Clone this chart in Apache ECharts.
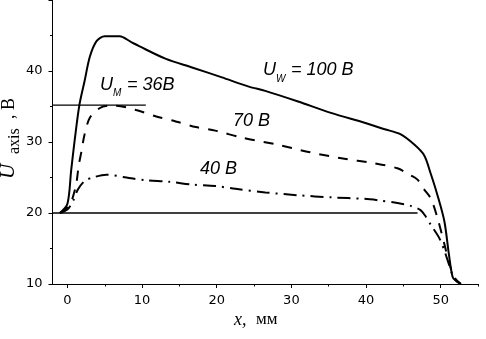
<!DOCTYPE html>
<html>
<head>
<meta charset="utf-8">
<script src="https://cdn.jsdelivr.net/npm/echarts@6/dist/echarts.min.js"></script>
<style>
  html, body { margin: 0; padding: 0; background: #fff; }
  #chart { width: 486px; height: 339px; }
</style>
</head>
<body>
<div id="chart"></div>
<script>
// x, mm
const u100X = [-1, 0, 0.5, 1.0, 1.6, 2.3, 3.0, 3.9, 5.0, 7.0, 8.5, 9.6, 13.2, 16.7, 20.7, 24.3, 26.5, 30.9, 35.3, 39.8, 42.5, 44.6, 46.5, 47.8, 48.65, 49.6, 50.5, 51.1, 51.6, 52.1, 52.7];
const u100Y = [20, 21.3, 26, 30.5, 35.2, 38.6, 42.0, 44.2, 44.9, 44.9, 44.1, 43.5, 41.7, 40.5, 39.1, 37.8, 37.2, 35.7, 34.1, 32.7, 31.8, 31.1, 29.6, 28.1, 25.6, 22.4, 18.8, 14.2, 11.0, 10.4, 10];

const u70X = [-1, 0, 0.5, 0.8, 1.2, 1.5, 1.9, 2.3, 3.0, 4.3, 5.5, 6.5, 9.2, 11.9, 14.5, 17.2, 19.8, 23.4, 27.8, 32.3, 36.7, 41.1, 44.2, 46.0, 46.9, 47.8, 48.7, 49.6, 50.5, 51.1, 51.8, 52.7];
const u70Y = [20, 20.8, 21.6, 22.5, 24.2, 26.6, 28.8, 31.1, 33.4, 34.75, 35.1, 35.1, 34.5, 33.6, 32.9, 32.1, 31.6, 30.6, 29.7, 28.6, 27.7, 27.0, 26.3, 25.3, 24.7, 23.3, 22.0, 19.2, 15.6, 13.1, 11.0, 10];

const u40X = [-1, 0, 0.5, 0.8, 1.4, 2.3, 3.4, 5.2, 7.9, 10.5, 13.6, 16.7, 19.8, 22.5, 26.5, 30.9, 35.4, 39.8, 41.6, 44.2, 46.0, 47.3, 48.0, 48.7, 49.8, 50.5, 51.1, 51.8, 52.7];
const u40Y = [20, 20.5, 21.2, 21.8, 23.3, 24.5, 25.0, 25.4, 25.0, 24.6, 24.4, 24.0, 23.8, 23.4, 22.9, 22.5, 22.2, 22.0, 21.8, 21.4, 21.0, 20.4, 19.5, 18.3, 16.5, 14.7, 12.8, 10.8, 10];

// horizontal reference lines: level and right end
const refLevels = [35.2, 20];
const refEnds = [10.5, 46.9];

const xLabels = [0, 10, 20, 30, 40, 50];
const xMinorTicks = [5, 15, 25, 35, 45, 55];
const yLabels = [10, 20, 30, 40];

const pairs = (xs, ys) => xs.map((x, i) => [x, ys[i]]);

const chart = echarts.init(document.getElementById('chart'), null, { renderer: 'canvas' });

const tickFont = {
  color: '#000',
  fontFamily: 'DejaVu Sans',
  fontSize: 13
};
const noteFont = 'italic 18px "Liberation Sans", Arial';
const subFont = 'italic 10px "Liberation Sans", Arial';

const options = {
  animation: false,
  grid: {
    left: 52.5,
    right: 8,
    top: -8,
    bottom: 55
  },
  xAxis: [
    {
      type: 'value',
      min: -2,
      max: 55,
      position: 'bottom',
      splitLine: { show: false },
      axisLine: { onZero: false, lineStyle: { color: '#000', width: 1 } },
      axisTick: { customValues: xLabels, length: 4, lineStyle: { color: '#000' } },
      axisLabel: Object.assign({ customValues: xLabels, margin: 10 }, tickFont)
    },
    {
      // minor ticks only
      type: 'value',
      min: -2,
      max: 55,
      position: 'bottom',
      splitLine: { show: false },
      axisLine: { show: false, onZero: false },
      axisTick: { customValues: xMinorTicks, length: 2.5, lineStyle: { color: '#000' } },
      axisLabel: { show: false }
    }
  ],
  yAxis: {
    type: 'value',
    min: 10,
    max: 50,
    interval: 10,
    splitLine: { show: false },
    axisLine: { show: true, onZero: false, lineStyle: { color: '#000', width: 1 } },
    axisTick: { show: true, length: 4, lineStyle: { color: '#000' } },
    minorTick: { show: true, splitNumber: 2, length: 2.5, lineStyle: { color: '#000' } },
    axisLabel: Object.assign({ customValues: yLabels, margin: 10 }, tickFont)
  },
  series: [
    {
      name: '100 B',
      type: 'line',
      data: pairs(u100X, u100Y),
      showSymbol: false,
      smooth: 0.3,
      lineStyle: { color: '#000', width: 2 }
    },
    {
      name: '70 B',
      type: 'line',
      data: pairs(u70X, u70Y),
      showSymbol: false,
      smooth: 0.3,
      lineStyle: { color: '#000', width: 2, type: [10, 9] }
    },
    {
      name: '40 B',
      type: 'line',
      data: pairs(u40X, u40Y),
      showSymbol: false,
      smooth: 0.3,
      lineStyle: { color: '#000', width: 2, type: [13, 6, 2, 6] }
    }
  ].concat(refLevels.map((lvl, i) => ({
    name: 'ref' + i,
    type: 'line',
    data: [[-2, lvl], [refEnds[i], lvl]],
    showSymbol: false,
    lineStyle: { color: '#000', width: 1.3 }
  }))),
  graphic: [
    // annotations
    { type: 'text', left: 263, top: 61, style: { text: 'U', font: noteFont, fill: '#000' } },
    { type: 'text', left: 276, top: 74, style: { text: 'W', font: subFont, fill: '#000' } },
    { type: 'text', left: 291, top: 61, style: { text: '= 100 B', font: noteFont, fill: '#000' } },
    { type: 'text', left: 100, top: 76, style: { text: 'U', font: noteFont, fill: '#000' } },
    { type: 'text', left: 113, top: 88, style: { text: 'M', font: subFont, fill: '#000' } },
    { type: 'text', left: 127, top: 76, style: { text: '= 36B', font: noteFont, fill: '#000' } },
    { type: 'text', left: 233, top: 112, style: { text: '70 B', font: noteFont, fill: '#000' } },
    { type: 'text', left: 200, top: 160, style: { text: '40 B', font: noteFont, fill: '#000' } },
    // y axis title, reading bottom to top
    { type: 'text', x: 8.5, y: 179, rotation: Math.PI / 2,
      style: { text: 'U', font: 'italic 21px "Liberation Serif", serif', fill: '#000', align: 'left', verticalAlign: 'middle' } },
    { type: 'text', x: 15, y: 154, rotation: Math.PI / 2,
      style: { text: 'axis', font: '16px "Liberation Serif", serif', fill: '#000', align: 'left', verticalAlign: 'middle' } },
    { type: 'text', x: 9, y: 119, rotation: Math.PI / 2,
      style: { text: ', В', font: '18px "Liberation Serif", serif', fill: '#000', align: 'left', verticalAlign: 'middle' } },
    // x axis title
    { type: 'text', left: 234, top: 311, style: { text: 'x,', font: 'italic 18px "Liberation Serif", serif', fill: '#000' } },
    { type: 'text', left: 256, top: 311, style: { text: 'мм', font: '17px "Liberation Serif", serif', fill: '#000' } }
  ]
};

chart.setOption(options);
</script>
</body>
</html>
